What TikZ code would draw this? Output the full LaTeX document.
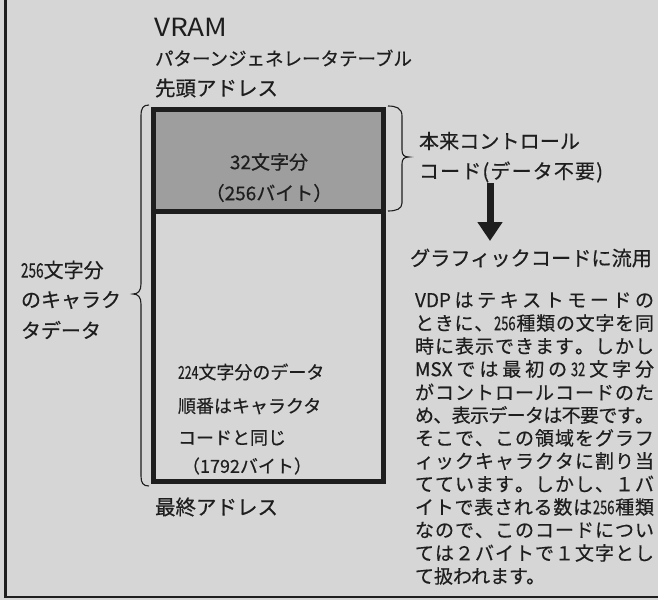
\documentclass[tikz,border=0pt]{standalone}
\usepackage{fontspec}
\setmainfont{Noto Sans CJK JP}[BoldFont=Noto Sans CJK JP, BoldFeatures={FakeBold=0.5}]
\usetikzlibrary{arrows.meta}
\definecolor{paper}{RGB}{214,214,214}
\definecolor{boxfill}{RGB}{158,158,158}
\definecolor{ink}{RGB}{30,30,30}
\newcommand{\nd}[1]{\scalebox{0.68}[1]{#1}}
\newcommand{\jline}[2]{\makebox[#1][s]{\spaceskip=0pt plus 1fil minus 4pt\xspaceskip=\spaceskip #2}}
\begin{document}
\begin{tikzpicture}[x=1pt,y=-1pt,
  every node/.style={text=ink, inner sep=0pt, outer sep=0pt},
  lbl/.style={anchor=west, font=\bfseries\fontsize{19}{19}\selectfont},
  boxtext/.style={anchor=west, font=\bfseries\fontsize{18}{18}\selectfont},
  para/.style={anchor=west, font=\bfseries\fontsize{19}{19}\selectfont},
  memo/.style={draw=ink, line width=5pt, minimum width=230pt},
  brace/.style={draw=ink, line width=1.1pt},
  frame/.style={draw=ink, line width=2.5pt}]
\fill[paper] (0,0) rectangle (658,600);
\useasboundingbox (0,0) rectangle (658,600);
\draw[frame] (5.5,0) -- (5.5,597) -- (658,597);

% headings
\node[anchor=west, font=\fontsize{25}{25}\selectfont] (vram) at (154,27) {\scalebox{1.12}[1]{VRAM}};
\node[lbl, font=\bfseries\fontsize{18.5}{18.5}\selectfont] (pgt) at (155,58) {パターンジェネレータテーブル};
\node[lbl, font=\bfseries\fontsize{20.5}{20.5}\selectfont] (head) at (155,88) {先頭アドレス};

% memory boxes
\node[memo, fill=boxfill, minimum height=101.5pt] (top) at (268.5,160.25) {};
\node[memo, minimum height=270pt] (low) at (268.5,346) {};
\node[lbl, anchor=center] (t1) at (269,162) {32文字分};
\node[lbl, anchor=center] (t2) at (269,193) {（256バイト）};
\node[boxtext] (l1) at (178,372) {\nd{224}文字分のデータ};
\node[boxtext] (l2) at (178,406) {順番はキャラクタ};
\node[boxtext] (l3) at (178,438) {コードと同じ};
\node[boxtext] (l4) at (182,466) {（1792バイト）};
\node[lbl, font=\bfseries\fontsize{20.5}{20.5}\selectfont] (last) at (155,507) {最終アドレス};

% left brace and label
\draw[brace] (149,105) .. controls (143,105) and (141,108) .. (141,116) -- (141,284)
  .. controls (141,291) and (138,294) .. (133,294)
  .. controls (138,294) and (141,297) .. (141,304) -- (141,476)
  .. controls (141,483) and (143,486) .. (149,486);
\node[lbl, font=\bfseries\fontsize{20}{20}\selectfont] (c1) at (21,270) {\nd{256}文字分};
\node[lbl, font=\bfseries\fontsize{20}{20}\selectfont] (c2) at (21,300) {のキャラク};
\node[lbl, font=\bfseries\fontsize{20}{20}\selectfont] (c3) at (21,330) {タデータ};

% right brace and label
\draw[brace] (388,106) .. controls (396,106) and (402,108) .. (402,116) -- (402,150)
  .. controls (402,155) and (404,157) .. (409,157)
  .. controls (404,157) and (402,159) .. (402,164) -- (402,203)
  .. controls (402,209) and (396,211) .. (388,211);
\node[lbl, font=\bfseries\fontsize{20}{20}\selectfont] (r1) at (419,141) {\jline{161pt}{本 来 コ ン ト ロ ー ル}};
\node[lbl, font=\bfseries\fontsize{20}{20}\selectfont] (r2) at (419,172) {\jline{184pt}{コ ー ド ( デ ー タ 不 要 )}};

% arrow
\coordinate (as) at (490,183);
\coordinate (ae) at (490,241);
\draw[ink, line width=7pt, -{Triangle[width=24pt,length=19pt]}] (as) -- (ae);
\node[lbl, font=\bfseries\fontsize{20.2}{20.2}\selectfont] (graf) at (410,258) {グラフィックコードに流用};

% paragraph
\foreach \t [count=\i] in {
  {VDP は テ キ ス ト モ ー ド の},
  {と き に 、 \nd{256} 種 類 の 文 字 を 同},
  {時 に 表 示 で き ま す 。 し か し},
  {MSX で は 最 初 の \nd{32} 文 字 分},
  {が コ ン ト ロ ー ル コ ー ド の た},
  {め 、 表 示 デ ー タ は 不 要 で す 。},
  {そ こ で 、 こ の 領 域 を グ ラ フ},
  {ィ ッ ク キ ャ ラ ク タ に 割 り 当},
  {て て い ま す 。 し か し 、 １ バ},
  {イ ト で 表 さ れ る 数 は \nd{256} 種 類},
  {な の で 、 こ の コ ー ド に つ い},
  {て は ２ バ イ ト で １ 文 字 と し}}
  \node[para] (p\i) at (415,{300+(\i-1)*23}) {\jline{239pt}{\t}};
\node[para] (p13) at (415,576) {て扱われます。};
\end{tikzpicture}
\end{document}
